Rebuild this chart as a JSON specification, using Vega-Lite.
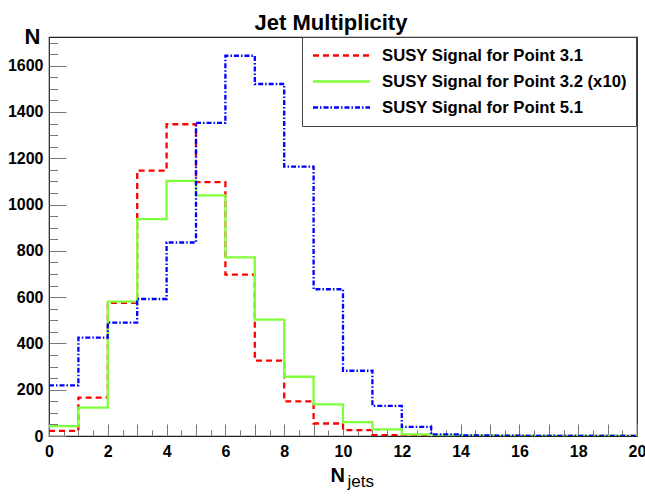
{
  "$schema": "https://vega.github.io/schema/vega-lite/v6.json",
  "width": 588,
  "height": 399,
  "autosize": {"type": "none"},
  "padding": {"left": 49, "top": 37, "right": 8, "bottom": 60},
  "background": "white",
  "config": {
    "font": "Liberation Sans",
    "view": {"stroke": "#222", "strokeWidth": 1.2}
  },
  "title": {
    "text": "Jet Multiplicity",
    "font": "Liberation Sans",
    "fontSize": 22,
    "fontWeight": "bold",
    "color": "#000",
    "anchor": "middle",
    "baseline": "alphabetic",
    "offset": 8,
    "dy": 35,
    "dx": -12
  },
  "data": {
    "values": [
      {"series": "SUSY Signal for Point 3.1", "x": 0, "n": 22},
      {"series": "SUSY Signal for Point 3.1", "x": 1, "n": 166},
      {"series": "SUSY Signal for Point 3.1", "x": 2, "n": 575},
      {"series": "SUSY Signal for Point 3.1", "x": 3, "n": 1147},
      {"series": "SUSY Signal for Point 3.1", "x": 4, "n": 1347},
      {"series": "SUSY Signal for Point 3.1", "x": 5, "n": 1097},
      {"series": "SUSY Signal for Point 3.1", "x": 6, "n": 697},
      {"series": "SUSY Signal for Point 3.1", "x": 7, "n": 326},
      {"series": "SUSY Signal for Point 3.1", "x": 8, "n": 150},
      {"series": "SUSY Signal for Point 3.1", "x": 9, "n": 54},
      {"series": "SUSY Signal for Point 3.1", "x": 10, "n": 25},
      {"series": "SUSY Signal for Point 3.1", "x": 11, "n": 4},
      {"series": "SUSY Signal for Point 3.1", "x": 12, "n": 2},
      {"series": "SUSY Signal for Point 3.1", "x": 13, "n": 1},
      {"series": "SUSY Signal for Point 3.1", "x": 14, "n": 0},
      {"series": "SUSY Signal for Point 3.1", "x": 15, "n": 0},
      {"series": "SUSY Signal for Point 3.1", "x": 16, "n": 0},
      {"series": "SUSY Signal for Point 3.1", "x": 17, "n": 0},
      {"series": "SUSY Signal for Point 3.1", "x": 18, "n": 0},
      {"series": "SUSY Signal for Point 3.1", "x": 19, "n": 0},
      {"series": "SUSY Signal for Point 3.1", "x": 20, "n": 0},
      {"series": "SUSY Signal for Point 3.2 (x10)", "x": 0, "n": 43},
      {"series": "SUSY Signal for Point 3.2 (x10)", "x": 1, "n": 123},
      {"series": "SUSY Signal for Point 3.2 (x10)", "x": 2, "n": 581},
      {"series": "SUSY Signal for Point 3.2 (x10)", "x": 3, "n": 937},
      {"series": "SUSY Signal for Point 3.2 (x10)", "x": 4, "n": 1102},
      {"series": "SUSY Signal for Point 3.2 (x10)", "x": 5, "n": 1040},
      {"series": "SUSY Signal for Point 3.2 (x10)", "x": 6, "n": 772},
      {"series": "SUSY Signal for Point 3.2 (x10)", "x": 7, "n": 503},
      {"series": "SUSY Signal for Point 3.2 (x10)", "x": 8, "n": 256},
      {"series": "SUSY Signal for Point 3.2 (x10)", "x": 9, "n": 137},
      {"series": "SUSY Signal for Point 3.2 (x10)", "x": 10, "n": 60},
      {"series": "SUSY Signal for Point 3.2 (x10)", "x": 11, "n": 29},
      {"series": "SUSY Signal for Point 3.2 (x10)", "x": 12, "n": 7},
      {"series": "SUSY Signal for Point 3.2 (x10)", "x": 13, "n": 3},
      {"series": "SUSY Signal for Point 3.2 (x10)", "x": 14, "n": 1},
      {"series": "SUSY Signal for Point 3.2 (x10)", "x": 15, "n": 0},
      {"series": "SUSY Signal for Point 3.2 (x10)", "x": 16, "n": 0},
      {"series": "SUSY Signal for Point 3.2 (x10)", "x": 17, "n": 0},
      {"series": "SUSY Signal for Point 3.2 (x10)", "x": 18, "n": 0},
      {"series": "SUSY Signal for Point 3.2 (x10)", "x": 19, "n": 0},
      {"series": "SUSY Signal for Point 3.2 (x10)", "x": 20, "n": 0},
      {"series": "SUSY Signal for Point 5.1", "x": 0, "n": 219},
      {"series": "SUSY Signal for Point 5.1", "x": 1, "n": 425},
      {"series": "SUSY Signal for Point 5.1", "x": 2, "n": 490},
      {"series": "SUSY Signal for Point 5.1", "x": 3, "n": 592},
      {"series": "SUSY Signal for Point 5.1", "x": 4, "n": 836},
      {"series": "SUSY Signal for Point 5.1", "x": 5, "n": 1353},
      {"series": "SUSY Signal for Point 5.1", "x": 6, "n": 1643},
      {"series": "SUSY Signal for Point 5.1", "x": 7, "n": 1521},
      {"series": "SUSY Signal for Point 5.1", "x": 8, "n": 1164},
      {"series": "SUSY Signal for Point 5.1", "x": 9, "n": 634},
      {"series": "SUSY Signal for Point 5.1", "x": 10, "n": 282},
      {"series": "SUSY Signal for Point 5.1", "x": 11, "n": 130},
      {"series": "SUSY Signal for Point 5.1", "x": 12, "n": 39},
      {"series": "SUSY Signal for Point 5.1", "x": 13, "n": 7},
      {"series": "SUSY Signal for Point 5.1", "x": 14, "n": 3},
      {"series": "SUSY Signal for Point 5.1", "x": 15, "n": 1},
      {"series": "SUSY Signal for Point 5.1", "x": 16, "n": 0},
      {"series": "SUSY Signal for Point 5.1", "x": 17, "n": 0},
      {"series": "SUSY Signal for Point 5.1", "x": 18, "n": 0},
      {"series": "SUSY Signal for Point 5.1", "x": 19, "n": 0},
      {"series": "SUSY Signal for Point 5.1", "x": 20, "n": 0}
    ]
  },
  "resolve": {"axis": {"x": "independent", "y": "independent"}},
  "layer": [
    {
      "mark": {"type": "line", "opacity": 0},
      "encoding": {
        "x": {
          "field": "x", "type": "quantitative",
          "scale": {"domain": [0, 20], "nice": false, "zero": false},
          "axis": {
            "orient": "bottom",
            "values": [0.5,1.5,2.5,3.5,4.5,5.5,6.5,7.5,8.5,9.5,10.5,11.5,12.5,13.5,14.5,15.5,16.5,17.5,18.5,19.5],
            "labels": false, "domain": false, "grid": false,
            "ticks": true, "tickSize": -6, "tickColor": "#777", "tickWidth": 1,
            "title": "jets",
            "titleFont": "Liberation Sans", "titleFontSize": 17, "titleFontWeight": "normal",
            "titleColor": "#000", "titleAlign": "left", "titleBaseline": "alphabetic",
            "titleX": 298, "titleY": 50, "titleAngle": 0
          }
        },
        "y": {
          "field": "n", "type": "quantitative",
          "scale": {"domain": [0, 1724], "nice": false},
          "axis": {
            "orient": "left",
            "values": [50,100,150,250,300,350,450,500,550,650,700,750,850,900,950,1050,1100,1150,1250,1300,1350,1450,1500,1550,1650,1700],
            "labels": false, "domain": false, "grid": false,
            "ticks": true, "tickSize": -8.5, "tickColor": "#777", "tickWidth": 1,
            "title": null
          }
        }
      }
    },
    {
      "mark": {"type": "line", "interpolate": "step-after", "strokeWidth": 2.3, "clip": true},
      "encoding": {
        "x": {
          "field": "x", "type": "quantitative",
          "scale": {"domain": [0, 20], "nice": false, "zero": false},
          "axis": {
            "orient": "bottom",
            "values": [0,1,2,3,4,5,6,7,8,9,10,11,12,13,14,15,16,17,18,19,20],
            "labelExpr": "datum.value % 2 == 0 ? datum.label : ''",
            "labelFont": "Liberation Sans", "labelFontSize": 16, "labelFontWeight": "bold",
            "labelColor": "#000", "labelPadding": 19, "labelFlush": false, "labelOverlap": false,
            "domain": false, "grid": false,
            "ticks": true, "tickSize": -12, "tickColor": "#777", "tickWidth": 1,
            "title": "N",
            "titleFont": "Liberation Sans", "titleFontSize": 20, "titleFontWeight": "bold",
            "titleColor": "#000", "titleAlign": "left", "titleBaseline": "alphabetic",
            "titleX": 281, "titleY": 45, "titleAngle": 0
          }
        },
        "y": {
          "field": "n", "type": "quantitative",
          "scale": {"domain": [0, 1724], "nice": false},
          "axis": {
            "orient": "left",
            "values": [0,200,400,600,800,1000,1200,1400,1600],
            "format": "d",
            "labelFont": "Liberation Sans", "labelFontSize": 16, "labelFontWeight": "bold",
            "labelColor": "#000", "labelPadding": 23, "labelFlush": false, "labelOverlap": false,
            "domain": false, "grid": false,
            "ticks": true, "tickSize": -17, "tickColor": "#777", "tickWidth": 1,
            "title": "N",
            "titleFont": "Liberation Sans", "titleFontSize": 22, "titleFontWeight": "bold",
            "titleColor": "#000", "titleAngle": 0, "titleAlign": "right", "titleBaseline": "alphabetic",
            "titleX": -9, "titleY": 6
          }
        },
        "color": {
          "field": "series", "type": "nominal",
          "scale": {
            "domain": ["SUSY Signal for Point 3.1", "SUSY Signal for Point 3.2 (x10)", "SUSY Signal for Point 5.1"],
            "range": ["#ff0000", "#7fff3a", "#0000ff"]
          },
          "legend": {
            "title": null,
            "orient": "none",
            "legendX": 253,
            "legendY": 0,
            "fillColor": "white",
            "strokeColor": "#444",
            "padding": 9,
            "symbolType": "M-0.94,0H6.19",
            "symbolSize": 256,
            "symbolStrokeWidth": 2.3,
            "labelFont": "Liberation Sans",
            "labelFontSize": 16.7,
            "labelFontWeight": "bold",
            "labelColor": "#000",
            "labelOffset": 52,
            "labelLimit": 400,
            "rowPadding": 7
          }
        },
        "strokeDash": {
          "field": "series", "type": "nominal",
          "scale": {
            "domain": ["SUSY Signal for Point 3.1", "SUSY Signal for Point 3.2 (x10)", "SUSY Signal for Point 5.1"],
            "range": [[6, 4], [1, 0], [5, 2, 1.5, 2]]
          },
          "legend": null
        }
      }
    }
  ]
}
